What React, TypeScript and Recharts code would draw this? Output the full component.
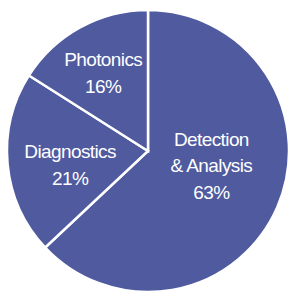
import { PieChart, Pie, Cell } from "recharts";

const categories = ["Detection\n& Analysis", "Diagnostics", "Photonics"];
const shares = [63, 21, 16];

const data = categories.map((name, i) => ({ name, value: shares[i] }));

const FILL = "#4f5a9f";
const RAD = Math.PI / 180;
// label placement tweaks per slice (fraction of radius, vertical nudge)
const labelRadius = [0.49, 0.555, 0.66];
const labelNudge = [-13, 6, 3];
const LINE_H = 26.5;

const renderLabel = (props: any) => {
  const { cx, cy, midAngle, outerRadius, percent, index, name } = props;
  const r = outerRadius * labelRadius[index];
  const x = cx + r * Math.cos(-midAngle * RAD);
  const y = cy + r * Math.sin(-midAngle * RAD) + labelNudge[index];
  const lines = [...String(name).split("\n"), `${Math.round(percent * 100)}%`];
  const top = y - ((lines.length - 1) / 2) * LINE_H;
  return (
    <text
      x={x}
      y={top}
      fill="#ffffff"
      textAnchor="middle"
      dominantBaseline="central"
      fontFamily="'Liberation Sans', Arial, sans-serif"
      fontSize={19}
      letterSpacing={-0.6}
    >
      {lines.map((line, i) => (
        <tspan key={i} x={x} dy={i === 0 ? 0 : LINE_H}>
          {line}
        </tspan>
      ))}
    </text>
  );
};

export default function App() {
  return (
    <div style={{ position: "absolute", left: 0, top: 0, width: 288, height: 295, background: "#fff" }}>
      <PieChart width={288} height={295} margin={{ top: 0, right: 0, bottom: 0, left: 0 }}>
        <Pie
          data={data}
          dataKey="value"
          nameKey="name"
          cx={148}
          cy={151}
          outerRadius={141}
          startAngle={90}
          endAngle={-270}
          stroke="#ffffff"
          strokeWidth={2.5}
          labelLine={false}
          label={renderLabel}
          isAnimationActive={false}
        >
          {data.map((d) => (
            <Cell key={d.name} fill={FILL} />
          ))}
        </Pie>
      </PieChart>
    </div>
  );
}
